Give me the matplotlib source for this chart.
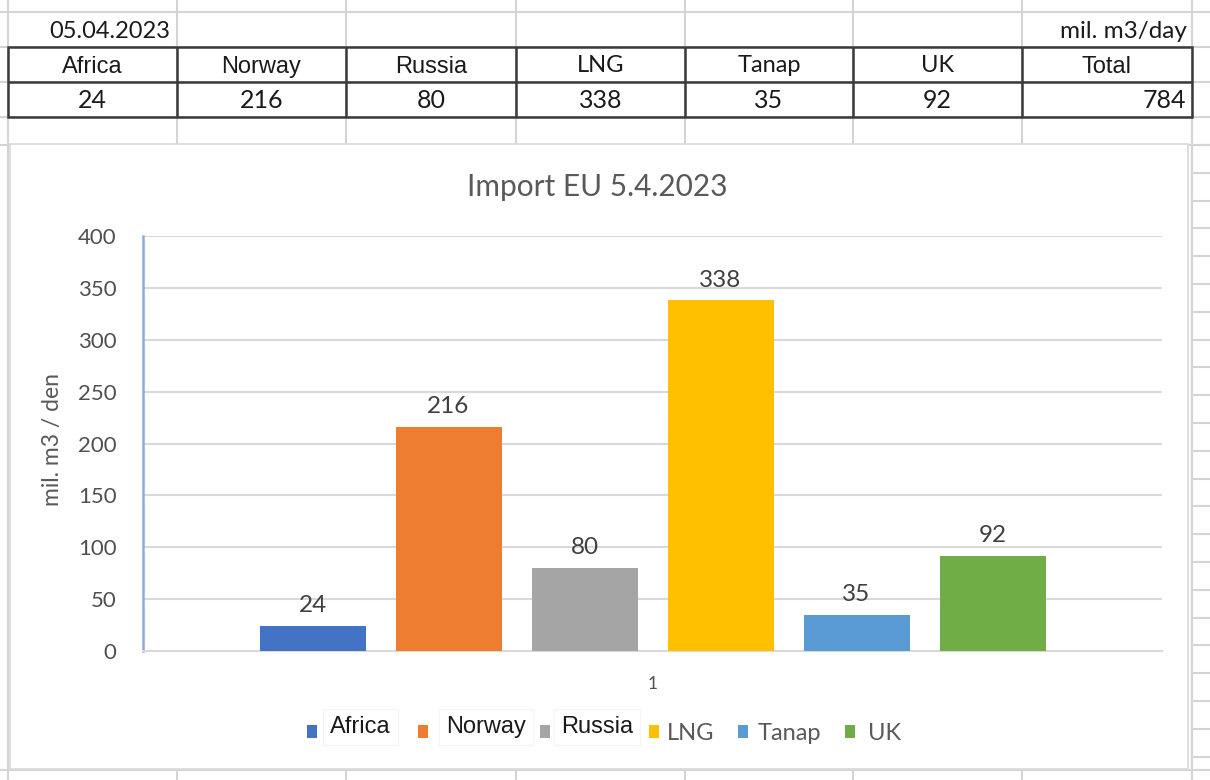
import numpy as np
import matplotlib.pyplot as plt
from matplotlib.patches import Rectangle

# data
categories = ["Africa", "Norway", "Russia", "LNG", "Tanap", "UK"]
values = [24, 216, 80, 338, 35, 92]
total = 784
date_text = "05.04.2023"
unit_text = "mil. m3/day"
title = "Import EU 5.4.2023"
ylabel = "mil. m3 / den"
colors = ["#4472C4", "#ED7D31", "#A5A5A5", "#FFC000", "#5B9BD5", "#70AD47"]

CAL = ["Lato", "DejaVu Sans"]          # stands in for Calibri
ARL = ["Liberation Sans", "DejaVu Sans"]  # stands in for Arial
GRID = "#D4D4D4"
INK = "#1A1A1A"

W, H = 1210, 780
fig = plt.figure(figsize=(W / 100, H / 100), dpi=100)
fig.patch.set_facecolor("white")

# ---- spreadsheet background (pixel coords) ----
bg = fig.add_axes([0, 0, 1, 1])
bg.set_xlim(0, W)
bg.set_ylim(H, 0)
bg.axis("off")

col_x = [8, 177, 346, 516, 685, 853, 1022, 1192]
row_y = [12, 47, 82, 117, 145]

for x in col_x:
    bg.vlines(x, 0, H, color=GRID, lw=1.5, zorder=1)
for y in row_y:
    bg.hlines(y, 0, W, color=GRID, lw=1.5, zorder=1)
for y in np.arange(145, H, 27.8):
    bg.hlines(y, 1192, W, color=GRID, lw=1.5, zorder=1)
bg.hlines(770, 0, W, color=GRID, lw=1.5, zorder=1)

# chart area covering cells
bg.add_patch(Rectangle((10, 144), 1178, 625, facecolor="white",
                       edgecolor="#D9D9D9", lw=1.2, zorder=2))

# table borders
bg.add_patch(Rectangle((col_x[0], 47), col_x[-1] - col_x[0], 70,
                       facecolor="none", edgecolor="#3A3A3A", lw=1.8, zorder=3))
bg.hlines(82, col_x[0], col_x[-1], color="#3A3A3A", lw=1.8, zorder=3)
for x in col_x[1:-1]:
    bg.vlines(x, 47, 117, color="#3A3A3A", lw=1.8, zorder=3)

bg.text(170, 31, date_text, ha="right", va="center", fontsize=17,
        family=CAL, color=INK, zorder=4)
bg.text(1187, 31, unit_text, ha="right", va="center", fontsize=17.5,
        family=CAL, color=INK, zorder=4)

arial_heads = {"Africa", "Norway", "Russia", "Total"}
heads = categories + ["Total"]
cells = values + [total]
for i, (hd, val) in enumerate(zip(heads, cells)):
    cx = (col_x[i] + col_x[i + 1]) / 2
    if hd in arial_heads:
        bg.text(cx, 67, hd, ha="center", va="center", fontsize=17,
                family=ARL, color=INK, zorder=4)
    else:
        bg.text(cx, 66, hd, ha="center", va="center", fontsize=17,
                family=CAL, color=INK, zorder=4)
    if hd == "Total":
        bg.text(col_x[i + 1] - 6, 101, str(val), ha="right", va="center",
                fontsize=18, family=CAL, color=INK, zorder=4)
    else:
        bg.text(cx, 101, str(val), ha="center", va="center", fontsize=18,
                family=CAL, color=INK, zorder=4)

# title and axis label
bg.text(597, 187, title, ha="center", va="center", fontsize=21.5,
        family=CAL, color="#595959", zorder=4)
bg.text(52, 440, ylabel, ha="center", va="center", rotation=90,
        fontsize=16.5, family=CAL, color="#595959", zorder=4)

# ---- chart ----
x0, x1, y0, y1 = 143, 1162, 651, 236
ax = fig.add_axes([x0 / W, (H - y0) / H, (x1 - x0) / W, (y0 - y1) / H])
ax.patch.set_alpha(0)
n = len(categories)
step = 136 / (x1 - x0)
width = 106 / (x1 - x0)
xs = (np.arange(n) - (n - 1) / 2) * step

bars = ax.bar(xs, values, width=width, color=colors, zorder=3)
ax.bar_label(bars, padding=7, fontsize=17.5, family=CAL, color="#404040")

ax.set_xlim(-0.5, 0.5)
ax.set_ylim(0, 400)
ax.set_yticks(np.arange(0, 401, 50))
ax.set_xticks([0])
ax.set_xticklabels(["1"])
ax.tick_params(axis="y", length=0, pad=19, labelsize=16, labelcolor="#505050")
ax.tick_params(axis="x", length=0, pad=18, labelsize=12.5, labelcolor="#505050")
for lab in ax.get_yticklabels() + ax.get_xticklabels():
    lab.set_family(CAL)
ax.yaxis.grid(True, color="#D9D9D9", lw=1.5, zorder=0)
ax.set_axisbelow(True)
for s in ["top", "right"]:
    ax.spines[s].set_visible(False)
ax.spines["bottom"].set_color("#D9D9D9")
ax.spines["bottom"].set_linewidth(1.5)
ax.spines["left"].set_color("#8FAADC")
ax.spines["left"].set_linewidth(1.8)

# ---- legend ----
sq_x = [307, 418, 540, 649, 738, 845]
tx_x = [330, 446, 561, 667, 758, 868]
for i, cat in enumerate(categories):
    arial = cat in arial_heads
    ty = 727 if arial else 733
    bg.add_patch(Rectangle((sq_x[i], 725), 10, 13, facecolor=colors[i],
                           edgecolor="none", zorder=4))
    if arial:
        bg.text(tx_x[i], ty, cat, ha="left", va="center", fontsize=17,
                family=ARL, color=INK, zorder=4,
                bbox=dict(boxstyle="square,pad=0.3", fc="white",
                          ec="#F5F5F5", lw=0.8))
    else:
        bg.text(tx_x[i], ty, cat, ha="left", va="center", fontsize=17,
                family=CAL, color="#595959", zorder=4)

fig.savefig("out.png", dpi=100)
